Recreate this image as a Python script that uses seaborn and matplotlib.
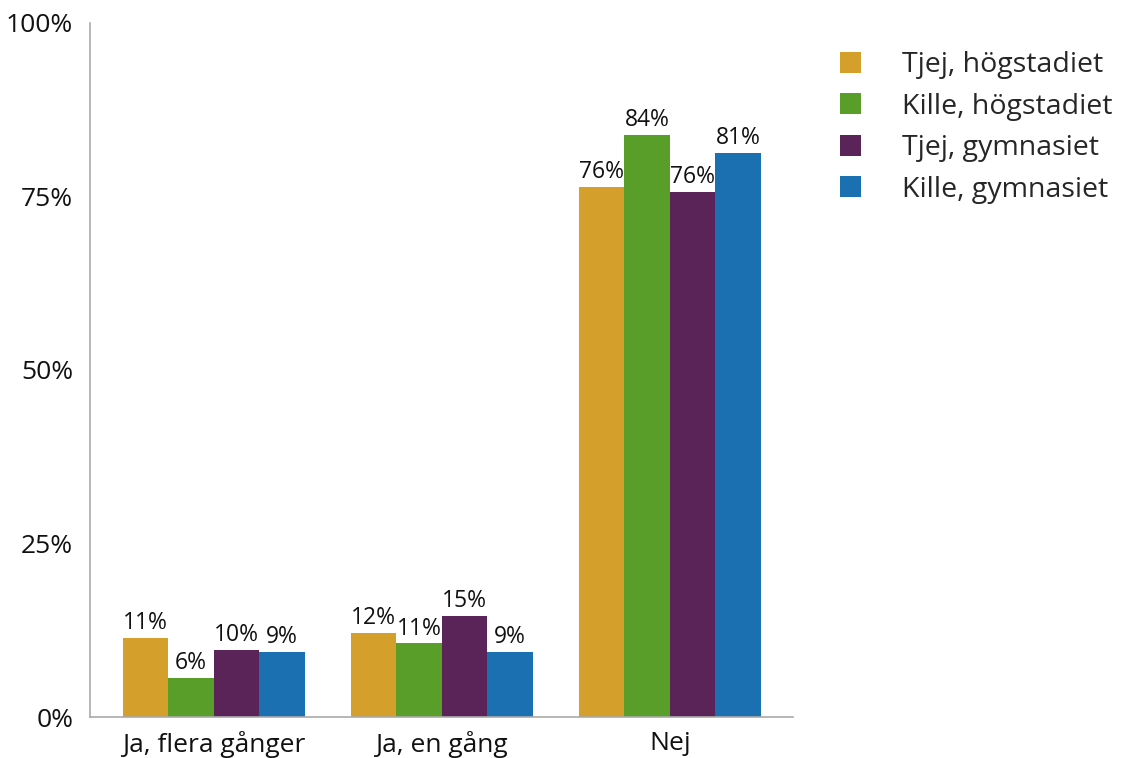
import matplotlib
matplotlib.use("Agg")
import matplotlib.pyplot as plt
import seaborn as sns
import pandas as pd
from matplotlib.patches import Patch

categories = ["Ja, flera gånger", "Ja, en gång", "Nej"]
groups = ["Tjej, högstadiet", "Kille, högstadiet", "Tjej, gymnasiet", "Kille, gymnasiet"]
tjej_hog = [11.4, 12.1, 76.4]
kille_hog = [5.6, 10.6, 83.8]
tjej_gym = [9.7, 14.6, 75.6]
kille_gym = [9.4, 9.4, 81.2]
colors = ["#D4A02B", "#5A9E2A", "#5B2458", "#1A70B0"]

series = [tjej_hog, kille_hog, tjej_gym, kille_gym]
rows = []
for g, vals in zip(groups, series):
    for c, v in zip(categories, vals):
        rows.append({"kategori": c, "grupp": g, "värde": v})
df = pd.DataFrame(rows)

sns.set_style("white")
plt.rcParams["font.family"] = ["Open Sans", "DejaVu Sans"]

fig = plt.figure(figsize=(11.23, 7.58), dpi=100)
ax = fig.add_axes([0.080, 0.054, 0.626, 0.916])

sns.barplot(data=df, x="kategori", y="värde", hue="grupp", order=categories,
            hue_order=groups, palette=colors, width=0.8, saturation=1,
            edgecolor="none", linewidth=0, legend=False, ax=ax)

for cont in ax.containers:
    ax.bar_label(cont, labels=[f"{round(b.get_height()):d}%" for b in cont],
                 padding=2, fontsize=16.5, color="#111111")

ax.set_ylim(0, 100)
ax.set_xlim(-0.544, 2.54)
ax.set_yticks([0, 25, 50, 75, 100])
ax.set_yticklabels(["0%", "25%", "50%", "75%", "100%"])
ax.set_xlabel("")
ax.set_ylabel("")
for s in ["top", "right"]:
    ax.spines[s].set_visible(False)
for s in ["left", "bottom"]:
    ax.spines[s].set_color("#aaaaaa")
    ax.spines[s].set_linewidth(1.2)
ax.tick_params(axis="both", which="both", length=8, width=1.2, color="#aaaaaa",
               labelsize=19, labelcolor="#111111", direction="out", pad=4)
ax.tick_params(axis="x", pad=2)

handles = [Patch(facecolor=c, edgecolor="none") for c in colors]
fig.legend(handles, groups, loc="upper left", bbox_to_anchor=(0.725, 0.966),
           frameon=False, fontsize=20.5, handlelength=0.75, handleheight=0.75,
           handletextpad=1.45, labelspacing=0.47)

fig.savefig("out.png", dpi=100)
